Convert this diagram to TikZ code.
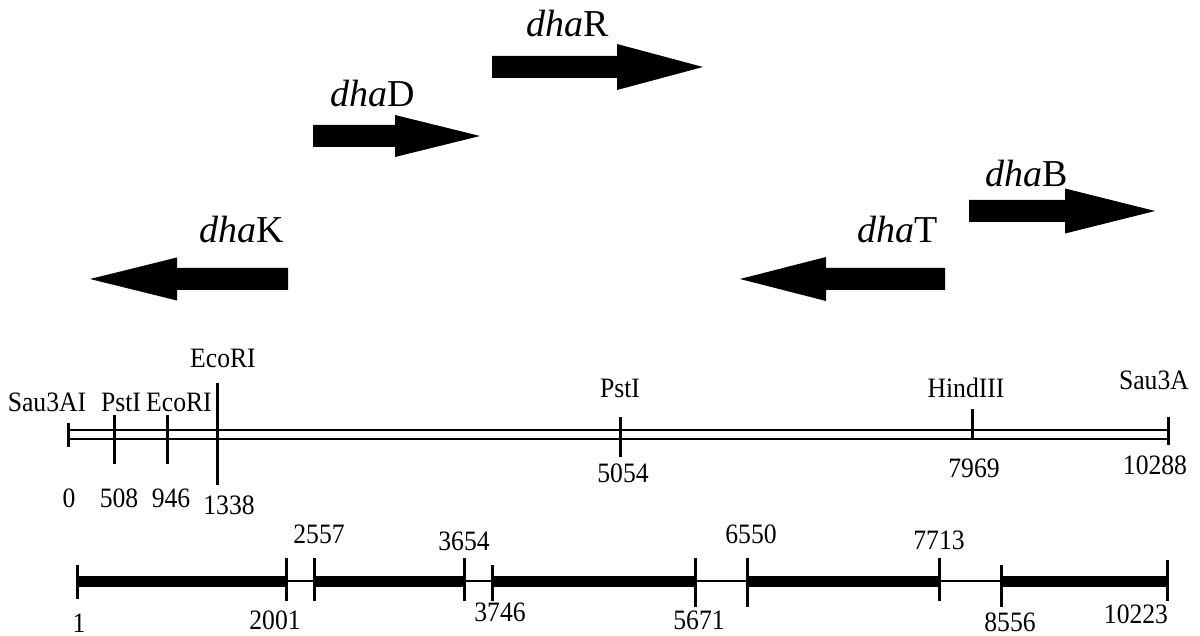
\documentclass[tikz,border=0pt]{standalone}
\usepackage{fontspec}
\setmainfont{Liberation Serif}
\newcommand\mtxt[1]{\scalebox{0.95}[1.04]{#1}}
\tikzset{
  genelab/.style={anchor=base,inner sep=0pt,font=\fontsize{38}{42}\selectfont},
  maplab/.style={anchor=base,inner sep=0pt,font=\fontsize{27}{30}\selectfont},
  gene/.style={fill=black},
  dnaline/.style={line width=2.5pt},
  tickline/.style={line width=3pt},
  thickbar/.style={line width=11pt},
  thinbar/.style={line width=2.5pt}
}
\newcommand\gArrow[5]{% tail, headbase, tip, y, headhalf
  \fill[gene] (#1,#4-11) -- (#2,#4-11) -- (#2,#4-#5) -- (#3,#4) -- (#2,#4+#5) -- (#2,#4+11) -- (#1,#4+11) -- cycle;}
\begin{document}
\begin{tikzpicture}[x=1pt,y=-1pt]
\useasboundingbox (0,0) rectangle (1200,636);
% gene arrows
\gArrow{288}{177}{90}{279}{21.5}
\gArrow{313}{395}{480}{136}{21}
\gArrow{492}{617}{703}{67}{23}
\gArrow{969}{1065}{1155}{211}{22.5}
\gArrow{945}{826}{740}{279}{22}
\node[genelab] (lK) at (242,243) {\textit{dha}K};
\node[genelab] (lD) at (373,107) {\textit{dha}D};
\node[genelab] (lR) at (568,37) {\textit{dha}R};
\node[genelab] (lB) at (1027,187) {\textit{dha}B};
\node[genelab] (lT) at (898,243) {\textit{dha}T};
% restriction map
\coordinate (mL1) at (68,430); \coordinate (mR1) at (1168,430);
\coordinate (mL2) at (68,439); \coordinate (mR2) at (1168,439);
\draw[dnaline] (mL1) -- (mR1);
\draw[dnaline] (mL2) -- (mR2);
\draw[tickline] (68,423) coordinate (t0a) -- (68,447) coordinate (t0b);
\draw[tickline] (114,415) coordinate (t1a) -- (114,464) coordinate (t1b);
\draw[tickline] (167,415) coordinate (t2a) -- (167,464) coordinate (t2b);
\draw[tickline] (217,383) coordinate (t3a) -- (217,485) coordinate (t3b);
\draw[tickline] (620,417) coordinate (t4a) -- (620,457) coordinate (t4b);
\draw[tickline] (972,409) coordinate (t5a) -- (972,440) coordinate (t5b);
\draw[tickline] (1168,417) coordinate (t6a) -- (1168,445) coordinate (t6b);
\node[maplab] (sau) at (47,411) {\mtxt{Sau3AI}};
\node[maplab] (pst1) at (121,411) {\mtxt{PstI}};
\node[maplab] (eco1) at (179,411) {\mtxt{EcoRI}};
\node[maplab] (eco2) at (223,368) {\mtxt{EcoRI}};
\node[maplab] (pst2) at (620,398) {\mtxt{PstI}};
\node[maplab] (hind) at (966,398) {\mtxt{HindIII}};
\node[maplab] (sau2) at (1154,389) {\mtxt{Sau3A}};
\node[maplab] (n0) at (69,507) {\mtxt{0}};
\node[maplab] (n508) at (119,507) {\mtxt{508}};
\node[maplab] (n946) at (171,507) {\mtxt{946}};
\node[maplab] (n1338) at (229,514) {\mtxt{1338}};
\node[maplab] (n5054) at (623,482) {\mtxt{5054}};
\node[maplab] (n7969) at (974,477) {\mtxt{7969}};
\node[maplab] (n10288) at (1155,474) {\mtxt{10288}};
% bottom map
\coordinate (b0) at (77,581); \coordinate (b1) at (286,581);
\coordinate (b2) at (314,581); \coordinate (b3) at (464,581);
\coordinate (b4) at (492,581); \coordinate (b5) at (695,581);
\coordinate (b6) at (747,581); \coordinate (b7) at (939,581);
\coordinate (b8) at (1001,581); \coordinate (b9) at (1167,581);
\draw[thickbar] (b0) -- (b1); \draw[thinbar] (b1) -- (b2);
\draw[thickbar] (b2) -- (b3); \draw[thinbar] (b3) -- (b4);
\draw[thickbar] (b4) -- (b5); \draw[thinbar] (b5) -- (b6);
\draw[thickbar] (b6) -- (b7); \draw[thinbar] (b7) -- (b8);
\draw[thickbar] (b8) -- (b9);
\draw[tickline] (77,565) -- (77,599);
\draw[tickline] (286,558) -- (286,601);
\draw[tickline] (314,558) -- (314,601);
\draw[tickline] (464,558) -- (464,601);
\draw[tickline] (492,565) -- (492,601);
\draw[tickline] (695,558) -- (695,607);
\draw[tickline] (747,558) -- (747,607);
\draw[tickline] (939,558) -- (939,601);
\draw[tickline] (1001,565) -- (1001,607);
\draw[tickline] (1167,560) -- (1167,601);
\node[maplab] (c1) at (79,632) {\mtxt{1}};
\node[maplab] (c2001) at (275,629) {\mtxt{2001}};
\node[maplab] (c2557) at (319,543) {\mtxt{2557}};
\node[maplab] (c3654) at (464,550) {\mtxt{3654}};
\node[maplab] (c3746) at (500,621) {\mtxt{3746}};
\node[maplab] (c5671) at (699,629) {\mtxt{5671}};
\node[maplab] (c6550) at (751,543) {\mtxt{6550}};
\node[maplab] (c7713) at (939,549) {\mtxt{7713}};
\node[maplab] (c8556) at (1010,631) {\mtxt{8556}};
\node[maplab] (c10223) at (1136,623) {\mtxt{10223}};
\end{tikzpicture}
\end{document}
